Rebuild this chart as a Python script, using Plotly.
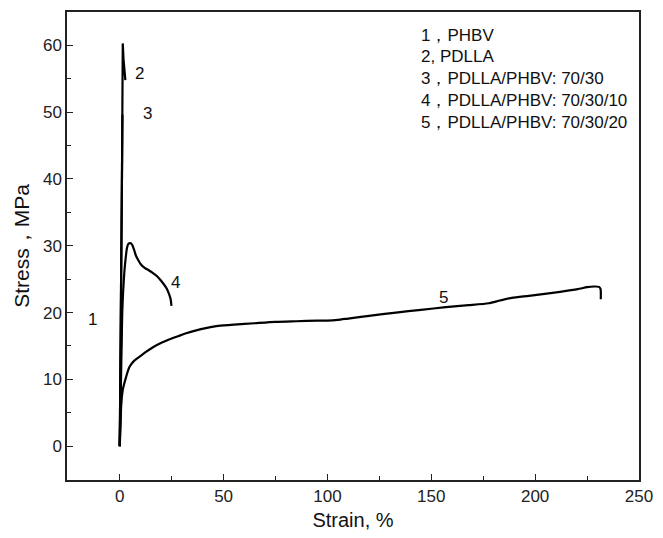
import plotly.graph_objects as go

# ---- data ----
phbv_x = [0, 0.2, 0.4, 0.6, 0.8, 1.0]
phbv_y = [0, 5, 10, 15, 19.8, 18.8]

pdlla_x = [0, 0.4, 0.8, 1.1, 1.3, 1.45, 1.8, 2.3, 2.7]
pdlla_y = [0, 12, 28, 42, 53, 60.3, 58, 56, 54.8]

b7030_x = [0, 0.3, 0.6, 0.9, 1.1, 1.3]
b7030_y = [0, 10, 22, 35, 45, 49.6]

b703010_x = [0, 0.3, 0.6, 0.9, 1.2, 1.6, 2.2, 2.9, 3.5, 4.2, 4.95, 5.6, 6.2, 7.0, 7.8,
             9.0, 10.2, 12, 14.1, 16, 18.1, 19.8, 21.3, 22.6, 23.7, 24.5, 24.9]
b703010_y = [0, 5, 10, 15, 20, 23, 26, 28.3, 29.7, 30.3, 30.4, 30.3, 30.0, 29.3, 28.5,
             27.8, 27.2, 26.7, 26.3, 25.9, 25.4, 24.8, 24.2, 23.6, 22.8, 22.0, 21.0]

b703020_x = [0, 0.3, 0.7, 1.5, 3.0, 4.6, 7.0, 10, 12.6, 16, 20.3, 24, 28.4, 32, 36.4, 42,
             47.5, 55, 65, 75, 85, 95, 100, 105, 110, 120, 133, 145, 157, 168, 177.6,
             183, 188.8, 197, 204.6, 212, 220.5, 225, 228.4, 230.8, 231.5, 231.6]
b703020_y = [0, 2.5, 6.1, 8.5, 10.3, 11.8, 12.8, 13.5, 14.1, 14.8, 15.5, 16.0, 16.5, 16.9,
             17.3, 17.7, 18.0, 18.2, 18.4, 18.6, 18.7, 18.8, 18.8, 18.9, 19.1, 19.5, 20.0,
             20.4, 20.8, 21.1, 21.4, 21.8, 22.2, 22.5, 22.8, 23.1, 23.5, 23.8, 23.9, 23.85,
             23.5, 22.0]

curve_labels = ["1", "2", "3", "4", "5"]
curve_label_x = [-13, 9.4, 13.3, 26.8, 155.9]
curve_label_y = [18.9, 55.8, 49.8, 24.5, 22.3]

legend_lines = ["1，PHBV", "2, PDLLA", "3，PDLLA/PHBV: 70/30",
                "4，PDLLA/PHBV: 70/30/10", "5，PDLLA/PHBV: 70/30/20"]
legend_x = 144.1
legend_y = [61.55, 58.27, 54.99, 51.71, 48.43]

x_ticks = [0, 50, 100, 150, 200, 250]
y_ticks = [0, 10, 20, 30, 40, 50, 60]

FONT = "Liberation Sans, Arial, sans-serif"

fig = go.Figure()
series = [(phbv_x, phbv_y, "linear"), (pdlla_x, pdlla_y, "linear"),
          (b7030_x, b7030_y, "linear"), (b703010_x, b703010_y, "spline"),
          (b703020_x, b703020_y, "spline")]
for xs, ys, shp in series:
    fig.add_trace(go.Scatter(x=xs, y=ys, mode="lines",
                             line=dict(color="black", width=2.2, shape=shp,
                                       smoothing=0.6 if shp == "spline" else None),
                             showlegend=False, hoverinfo="skip"))

for t, x, y in zip(curve_labels, curve_label_x, curve_label_y):
    fig.add_annotation(x=x, y=y, text=t, showarrow=False,
                       font=dict(family=FONT, size=17, color="#111"))

for t, y in zip(legend_lines, legend_y):
    fig.add_annotation(x=legend_x, y=y, text=t, showarrow=False, xanchor="left",
                       yanchor="middle", font=dict(family=FONT, size=17, color="#111"))

axis_common = dict(showline=True, mirror=True, linecolor="#222", linewidth=1.5,
                   ticks="inside", ticklen=6, tickwidth=1.2, tickcolor="#222",
                   showgrid=False, zeroline=False,
                   tickfont=dict(family=FONT, size=17, color="#222"))

fig.update_xaxes(range=[-25.4, 250], tickvals=x_ticks,
                 minor=dict(dtick=25, ticks="inside", ticklen=4, tickcolor="#222", tickwidth=1.2),
                 title=dict(text="Strain, %", font=dict(family=FONT, size=20, color="#111"),
                            standoff=8),
                 **axis_common)
fig.update_yaxes(range=[-5.07, 65], tickvals=y_ticks,
                 minor=dict(dtick=5, ticks="inside", ticklen=4, tickcolor="#222", tickwidth=1.2),
                 title=dict(text="Stress，MPa", font=dict(family=FONT, size=21, color="#111"),
                            standoff=8),
                 **axis_common)

fig.update_layout(width=663, height=538, margin=dict(l=67, r=17, t=10, b=58),
                  plot_bgcolor="white", paper_bgcolor="white")

fig.write_html("out.html")
